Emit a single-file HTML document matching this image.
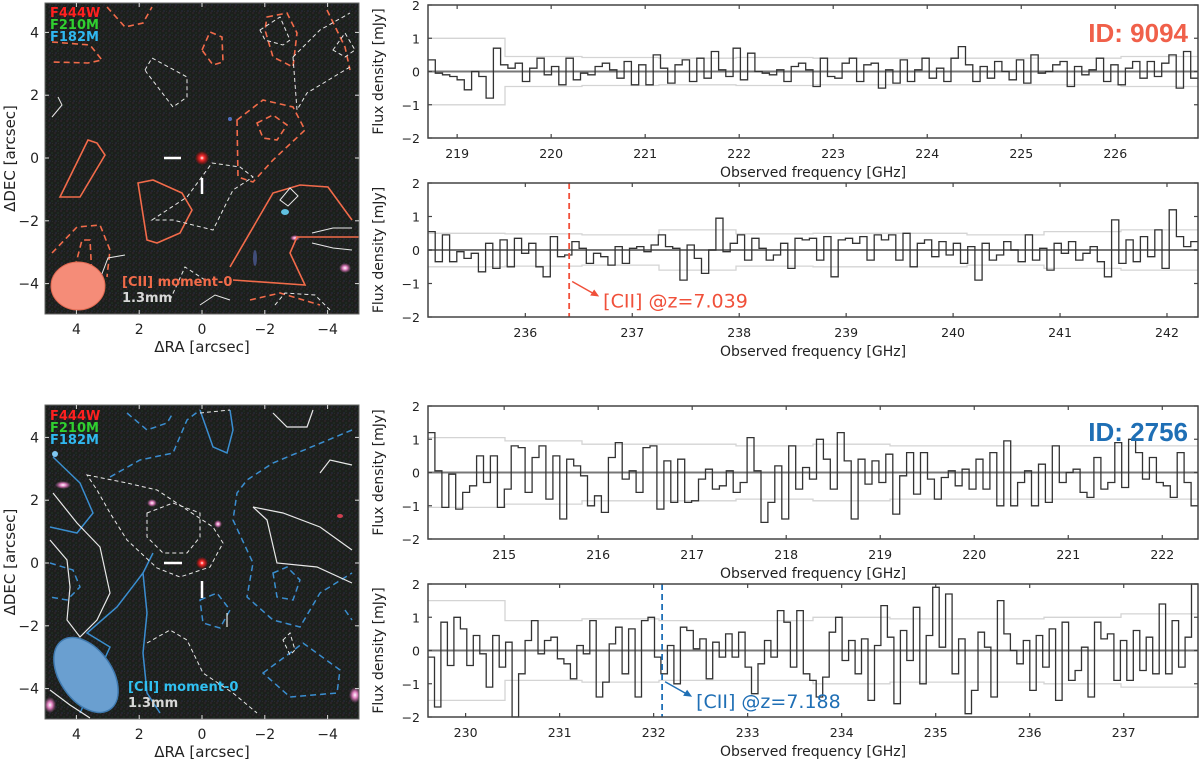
<!DOCTYPE html>
<html><head><meta charset="utf-8"><style>
html,body{margin:0;padding:0;background:#fff;}
svg{display:block;font-family:"DejaVu Sans","Liberation Sans",sans-serif;}
</style></head><body>
<svg id="fig" width="1200" height="762" viewBox="0 0 1200 762" xmlns="http://www.w3.org/2000/svg">
<defs>
<pattern id="noise" width="6" height="6" patternUnits="userSpaceOnUse">
<rect width="6" height="6" fill="#1c1f1c"/>
<rect x="0" y="0" width="2" height="2" fill="#2a2327"/>
<rect x="3" y="2" width="2" height="2" fill="#1f2a22"/>
<rect x="1" y="4" width="2" height="2" fill="#232630"/>
<rect x="4" y="5" width="1" height="1" fill="#2c2a2a"/>
</pattern>
<radialGradient id="redsrc"><stop offset="0" stop-color="#fff"/><stop offset="0.3" stop-color="#ff3030"/><stop offset="1" stop-color="#ff0000" stop-opacity="0"/></radialGradient>
<radialGradient id="pink"><stop offset="0" stop-color="#fff"/><stop offset="0.4" stop-color="#e080c0"/><stop offset="1" stop-color="#c060a0" stop-opacity="0"/></radialGradient>
<clipPath id="clipTop"><rect x="45" y="3" width="314" height="311"/></clipPath>
<clipPath id="clipBot"><rect x="45" y="405" width="314" height="314"/></clipPath>
</defs>

<!-- TOP IMAGE -->
<g>
<rect x="45" y="3" width="314" height="311" fill="url(#noise)"/>
<g clip-path="url(#clipTop)" fill="none" stroke-width="1.6">
<circle cx="230" cy="119" r="2" fill="#5070c0" stroke="none"/>
<ellipse cx="285" cy="212" rx="4" ry="3" fill="#60c0e0" stroke="none"/>
<ellipse cx="295" cy="238" rx="5" ry="3" fill="url(#pink)" stroke="none"/>
<ellipse cx="345" cy="268" rx="6" ry="5" fill="url(#pink)" stroke="none"/>
<ellipse cx="255" cy="258" rx="2" ry="8" fill="#5060a0" stroke="none" opacity="0.7"/>
<g stroke="#f26b4a">
<path d="M60,197 L88,140 L97,143 L105,155 L80,197 Z"/>
<path d="M138,183 L153,180 L182,193 L192,210 L180,233 L157,243 L147,240 Z"/>
<path d="M230,267 L273,193 L300,185 L328,187 L352,220"/>
<path d="M360,237 L297,237 L290,253 L305,285 L233,280"/>
</g>
<g stroke="#f26b4a" stroke-dasharray="6,4">
<path d="M52,42 L90,45 L102,60 L88,63 L53,62"/>
<path d="M107,7 L125,27 L143,23 L152,7"/>
<path d="M202,50 L210,32 L222,37 L223,62 L213,65 Z"/>
<path d="M237,120 L263,100 L293,107 L305,130 L273,160 L253,182 L238,177 Z"/>
<path d="M257,123 L273,115 L287,125 L277,140 L263,138 Z"/>
<path d="M52,253 L77,227 L100,225 L110,250 L107,277"/>
<path d="M75,267 L82,240 L90,240 L92,277"/>
<path d="M267,17 L287,13 L297,33 L293,67 L273,57 L265,30 Z"/>
<path d="M327,10 L345,47 L350,70"/>
<path d="M250,300 L280,293 L320,305"/>
</g>
<g stroke="#e8e8e8" stroke-width="1" stroke-dasharray="4,3">
<path d="M145,70 L152,58 L187,77 L187,97 L173,107 L147,73 Z"/>
<path d="M152,220 L187,197 L212,163 L240,167 L253,177 L233,190 L213,230 L173,220 Z"/>
<path d="M293,57 L320,30 L350,13"/>
<path d="M293,57 L297,110 L307,93 L350,67"/>
<path d="M260,30 L280,17 L290,40 L283,45 L265,40 Z"/>
<path d="M333,50 L345,33 L355,50 L345,57 Z"/>
<path d="M170,300 L185,267 L205,280"/>
<path d="M275,305 L285,293 L315,295 L330,310"/>
</g>
<g stroke="#e8e8e8" stroke-width="1">
<path d="M52,117 L62,105 L58,97"/>
<path d="M280,200 L290,188 L298,196 L288,206 Z"/>
<path d="M312,233 L333,228 L352,228"/>
<path d="M312,243 L333,248 L352,250"/>
<path d="M95,292 L108,258 L125,255"/>
<path d="M200,305 L215,295 L230,300"/>
</g>
<circle cx="202" cy="158" r="7" fill="url(#redsrc)" stroke="none"/>
</g>
<line x1="164" y1="158" x2="181" y2="158" stroke="#fff" stroke-width="2.5"/>
<line x1="202" y1="178" x2="202" y2="194" stroke="#fff" stroke-width="2.5"/>
<ellipse cx="78" cy="286" rx="27" ry="24" fill="#f58c78" stroke="#e06850" stroke-width="1"/>
<text x="50" y="17" fill="#ff2020" font-weight="bold" font-size="13">F444W</text>
<text x="50" y="29" fill="#30d030" font-weight="bold" font-size="13">F210M</text>
<text x="50" y="41" fill="#30b8f0" font-weight="bold" font-size="13">F182M</text>
<text x="122" y="286" fill="#f26b4a" font-weight="bold" font-size="13">[CII] moment-0</text>
<text x="122" y="302" fill="#d8d8d8" font-weight="bold" font-size="13">1.3mm</text>
<rect x="45" y="3" width="314" height="311" fill="none" stroke="#666" stroke-width="1"/>
</g>

<!-- BOTTOM IMAGE -->
<g>
<rect x="45" y="405" width="314" height="314" fill="url(#noise)"/>
<g clip-path="url(#clipBot)" fill="none" stroke-width="1.5">
<ellipse cx="63" cy="485" rx="8" ry="4" fill="url(#pink)" stroke="none"/>
<ellipse cx="152" cy="503" rx="5" ry="4" fill="url(#pink)" stroke="none"/>
<ellipse cx="218" cy="524" rx="4" ry="4" fill="url(#pink)" stroke="none"/>
<ellipse cx="55" cy="454" rx="3" ry="3" fill="#80c8f0" stroke="none"/>
<ellipse cx="355" cy="695" rx="6" ry="8" fill="url(#pink)" stroke="none"/>
<ellipse cx="50" cy="705" rx="6" ry="8" fill="url(#pink)" stroke="none"/>
<ellipse cx="340" cy="516" rx="3" ry="2" fill="#d04050" stroke="none"/>
<g stroke="#3a8ed0">
<path d="M53,457 L80,483 L93,513 L77,533 L50,527"/>
<path d="M153,553 L143,573 L147,613 L143,653 L147,693 L160,713"/>
<path d="M143,573 L117,607 L87,633 L110,647 L80,713"/>
<path d="M200,410 L213,447 L227,453 L233,430 L230,410"/>
</g>
<g stroke="#3a8ed0" stroke-dasharray="6,4">
<path d="M127,413 L147,430 L167,423 L173,413"/>
<path d="M110,477 L140,460 L173,453 L187,420 L200,410"/>
<path d="M352,430 L273,463 L247,480 L237,493 L233,520 L253,563 L247,597 L273,620 L300,627 L320,593 L352,573"/>
<path d="M273,573 L287,567 L300,580 L293,600 L277,597 Z"/>
<path d="M263,673 L290,653 L303,643 L340,670 L337,693 L290,697 Z"/>
<path d="M200,600 L217,593 L230,610 L220,628 L203,623 Z"/>
<path d="M50,563 L73,570 L80,587 L67,600 L50,597"/>
<path d="M345,610 L352,620"/>
</g>
<g stroke="#e8e8e8" stroke-width="1" stroke-dasharray="4,3">
<path d="M87,475 L127,483 L157,490 L213,527 L223,543 L210,567 L180,577 L157,568 L127,540 L110,513 L97,490 Z"/>
<path d="M147,513 L173,503 L200,513 L200,537 L187,553 L163,553 L147,537 Z"/>
<path d="M147,643 L170,630 L187,640 L203,673 L233,693 L257,713"/>
<path d="M283,640 L290,633 L295,650 L290,655 Z"/>
<path d="M200,413 L230,410"/>
</g>
<g stroke="#e8e8e8" stroke-width="1.2">
<path d="M50,540 L67,560 L70,587 L67,620 L80,637 L97,620 L110,593 L100,547 L77,523 L53,493"/>
<path d="M253,507 L267,520 L277,563 L317,567 L352,583"/>
<path d="M253,507 L283,513 L320,527 L352,550"/>
<path d="M273,413 L287,427 L307,427 L313,410"/>
<path d="M320,473 L330,460 L352,465"/>
<path d="M227,613 L227,627"/>
<path d="M50,690 L70,705 L90,718"/>
</g>
<circle cx="202" cy="563" r="6" fill="url(#redsrc)" stroke="none"/>
</g>
<line x1="164" y1="563" x2="182" y2="563" stroke="#fff" stroke-width="2.5"/>
<line x1="202" y1="581" x2="202" y2="598" stroke="#fff" stroke-width="2.5"/>
<ellipse cx="86" cy="675" rx="42" ry="26" transform="rotate(55 86 675)" fill="#6a9fd0" stroke="#3f7ab0" stroke-width="1.5"/>
<text x="50" y="420" fill="#ff2020" font-weight="bold" font-size="13">F444W</text>
<text x="50" y="432" fill="#30d030" font-weight="bold" font-size="13">F210M</text>
<text x="50" y="444" fill="#30b8f0" font-weight="bold" font-size="13">F182M</text>
<text x="128" y="691" fill="#30c0f0" font-weight="bold" font-size="13">[CII] moment-0</text>
<text x="128" y="707" fill="#d8d8d8" font-weight="bold" font-size="13">1.3mm</text>
<rect x="45" y="405" width="314" height="314" fill="none" stroke="#666" stroke-width="1"/>
</g>

<g id="imgaxes" font-size="14" fill="#222"></g>
<g id="spectra"></g>

<text x="1188" y="42" text-anchor="end" fill="#f0604a" font-weight="bold" font-size="26" font-family="Liberation Sans, sans-serif">ID: 9094</text>
<text x="1188" y="441" text-anchor="end" fill="#1f6fb5" font-weight="bold" font-size="26" font-family="Liberation Sans, sans-serif">ID: 2756</text>
</svg>
<script>
// ---- spectrum data ----
const specRangeA = [218.69, 226.88];
const specA = [0.35,-0.05,-0.1,-0.15,-0.25,-0.55,0.0,-0.15,-0.8,0.7,0.2,0.1,0.25,-0.3,0.1,0.4,-0.1,0.15,-0.4,0.4,-0.25,-0.05,-0.1,0.15,0.25,0.05,-0.2,0.3,-0.4,0.2,-0.4,0.5,0.1,-0.35,0.2,0.35,-0.3,0.4,-0.2,0.6,0.05,-0.15,0.7,-0.25,0.55,0.0,-0.05,-0.1,0.05,-0.3,0.15,0.25,0.05,-0.45,0.4,-0.15,-0.2,0.25,0.4,-0.3,0.2,0.25,-0.5,0.05,-0.35,0.35,-0.3,0.05,0.4,-0.2,0.1,-0.3,0.4,0.75,0.2,-0.3,0.15,-0.2,0.3,0.0,-0.25,0.35,-0.35,0.5,-0.05,0.0,0.2,0.3,-0.45,0.15,-0.1,0.05,0.4,-0.3,0.2,-0.4,0.1,0.3,-0.2,0.3,-0.15,0.25,0.5,-0.5,0.6,-0.2];
const rmsA = [1.0,0.45,0.42,0.4,0.42,0.4,0.4,0.4,0.4,0.45];

const specRangeB = [235.09, 242.29];
const specB = [0.55,-0.35,0.45,-0.35,-0.05,-0.25,-0.1,-0.65,0.2,-0.55,0.3,-0.5,0.35,-0.1,0.2,-0.5,-0.8,0.4,-0.2,-0.15,0.25,0.05,-0.4,-0.1,-0.2,-0.45,0.1,-0.4,0.05,0.1,-0.05,0.15,0.45,0.1,0.05,-0.9,0.15,-0.25,-0.7,0.0,0.95,-0.05,0.2,0.45,-0.3,0.35,0.05,-0.3,-0.15,0.2,-0.55,0.35,0.3,0.35,-0.3,0.4,-0.8,0.3,0.35,0.2,0.4,-0.3,0.45,0.3,0.45,-0.3,0.5,-0.5,0.2,0.3,-0.2,0.25,-0.15,0.2,-0.4,0.1,-0.9,0.2,-0.3,-0.15,0.25,0.0,-0.35,0.45,-0.3,0.05,-0.6,0.2,-0.1,0.25,-0.3,-0.1,0.1,-0.35,-0.8,0.9,-0.4,0.3,-0.35,0.4,-0.2,0.6,-0.55,1.2,0.4,0.1,0.25];
const rmsB = [0.5,0.48,0.45,0.6,0.48,0.5,0.5,0.45,0.55,0.6];
const lineB = 236.41;
const labelB = "[CII] @z=7.039";

const specRangeC = [214.19, 222.38];
const specC = [1.2,0.05,-1.05,-0.05,-1.1,-0.6,-0.4,0.5,-0.3,0.5,-1.05,-0.5,0.8,0.75,-0.6,0.45,0.8,-0.8,0.5,-1.4,0.4,0.2,-0.1,-1.0,-0.7,-1.2,0.45,0.9,-0.2,0.05,-0.6,0.75,0.8,-1.1,0.35,-0.9,0.4,-0.9,-0.85,-0.2,0.1,-0.5,-0.4,0.05,-0.6,-0.3,1.05,0.05,-1.5,-0.9,0.2,-1.4,0.8,-0.5,0.15,-0.2,1.0,0.4,-0.5,1.2,0.35,-1.4,0.4,-0.35,0.35,-0.3,0.55,-1.25,-0.1,0.6,-0.65,0.6,-0.2,-0.8,-0.15,0.05,-0.4,0.1,-0.5,0.4,-0.5,0.6,-1.0,0.95,-1.0,-0.3,0.05,-1.0,0.25,-0.9,0.8,-0.3,0.0,0.1,-0.6,-0.75,0.45,-0.5,-0.3,0.9,-0.45,1.0,0.6,-0.2,0.45,-0.3,-0.4,-0.75,0.6,-0.3,-1.0];
const rmsC = [1.05,0.95,0.85,0.85,0.8,0.85,0.8,0.8,0.8,0.8];

const specRangeD = [229.6, 237.79];
const specD = [-0.2,-1.7,0.85,-0.45,1.0,0.65,-0.45,0.45,-0.1,-1.1,0.45,-0.5,0.25,-2.0,-0.7,0.3,0.9,-0.1,0.3,0.4,-0.25,-0.4,-0.85,0.15,-0.1,0.9,-1.4,-0.95,0.2,0.7,-0.7,0.65,-1.4,0.9,1.0,-0.2,-0.7,0.15,-1.0,0.7,0.6,0.05,0.35,-0.85,0.25,-0.2,0.5,-0.2,0.55,-0.5,-1.3,-0.4,0.3,-0.2,1.2,0.85,-0.5,1.2,-0.7,-0.9,-1.4,-0.8,0.55,1.0,-0.3,0.3,-0.7,0.35,-1.5,0.15,1.35,0.4,-1.6,0.6,-0.3,1.3,-1.0,0.45,1.9,0.1,1.7,-0.7,0.35,-1.9,-1.2,0.55,0.1,-1.4,1.5,0.5,0.0,-0.4,0.3,-1.2,0.45,-0.5,0.65,-1.5,0.85,-0.9,-0.6,0.1,-1.4,0.85,0.35,0.5,-0.9,0.3,-0.9,0.6,-0.6,0.4,-0.7,1.4,-0.7,0.9,-0.5,0.4,2.0];
const rmsD = [1.5,0.9,0.95,0.9,0.9,1.0,0.95,0.95,1.0,1.1];
const lineD = 232.09;
const labelD = "[CII] @z=7.188";

const yTicks = [-2,-1,0,1,2];
const raTicks = [4,2,0,-2,-4];
const decTicks = [4,2,0,-2,-4];

const NS = "http://www.w3.org/2000/svg";
function mk(tag, attrs, parent){ const e=document.createElementNS(NS,tag); for(const k in attrs) e.setAttribute(k,attrs[k]); parent.appendChild(e); return e; }

const root = document.getElementById('spectra');
const L = 428, R = 1198;

function drawPanel(name, range, vals, rms, top, bot, line, label, color){
  const g = mk('g', {}, root);
  
  
  const xs = f => L + (f - range[0]) / (range[1] - range[0]) * (R - L);
  const ys = v => bot - (v + 2) / 4 * (bot - top);
  const n = vals.length, df = (range[1] - range[0]) / n;
  // noise envelopes
  const m = rms.length, dr = (range[1] - range[0]) / m;
  ['+', '-'].forEach(s => {
    let d = '';
    rms.forEach((r, i) => {
      const v = s === '+' ? r : -r;
      const x0 = xs(range[0] + i * dr), x1 = xs(range[0] + (i + 1) * dr);
      d += (i === 0 ? 'M' : 'L') + x0.toFixed(1) + ',' + ys(v).toFixed(1) + ' L' + x1.toFixed(1) + ',' + ys(v).toFixed(1) + ' ';
    });
    const p = mk('path', {d: d, fill: 'none', stroke: '#d4d4d4', 'stroke-width': 1.3}, g);
    
    
  });
  // zero line
  const z = mk('line', {x1: L, x2: R, y1: ys(0), y2: ys(0), stroke: '#777', 'stroke-width': 2}, g);
  
  
  // step spectrum
  let d = '';
  vals.forEach((v, i) => {
    const x0 = xs(range[0] + i * df), x1 = xs(range[0] + (i + 1) * df);
    d += (i === 0 ? 'M' : 'L') + x0.toFixed(1) + ',' + ys(v).toFixed(1) + ' L' + x1.toFixed(1) + ',' + ys(v).toFixed(1) + ' ';
  });
  const sp = mk('path', {d: d, fill: 'none', stroke: '#333', 'stroke-width': 1.3}, g);
  
  
  // line marker
  if (line !== null) {
    const lx = xs(line);
    const ml = mk('line', {x1: lx, x2: lx, y1: top, y2: bot, stroke: color, 'stroke-width': 1.8, 'stroke-dasharray': '6,4'}, g);
    
    
    const ay = ys(-1);
    mk('line', {x1: lx + 3, y1: ay - 2, x2: lx + 26, y2: ay + 11, stroke: color, 'stroke-width': 1.5}, g);
    mk('path', {d: `M${lx+30},${ay+13} L${lx+21},${ay+12} L${lx+25},${ay+6} Z`, fill: color}, g);
    const t = mk('text', {x: lx + 34, y: ay + 24, fill: color, 'font-size': 19}, g);
    t.textContent = label;
    
    
  }
  // frame
  mk('rect', {x: L, y: top, width: R - L, height: bot - top, fill: 'none', stroke: '#444', 'stroke-width': 1.5}, g);
  // x ticks
  for (let f = Math.ceil(range[0]); f <= range[1]; f++) {
    const x = xs(f);
    mk('line', {x1: x, x2: x, y1: bot, y2: bot - 4, stroke: '#444', 'stroke-width': 1.2}, g);
    mk('line', {x1: x, x2: x, y1: top, y2: top + 4, stroke: '#444', 'stroke-width': 1.2}, g);
    const t = mk('text', {x: x, y: bot + 20, 'text-anchor': 'middle', 'font-size': 12.5, fill: '#222'}, g);
    t.textContent = f;
    
    
  }
  yTicks.forEach(v => {
    const y = ys(v);
    mk('line', {x1: L, x2: L + 4, y1: y, y2: y, stroke: '#444', 'stroke-width': 1.2}, g);
    mk('line', {x1: R, x2: R - 4, y1: y, y2: y, stroke: '#444', 'stroke-width': 1.2}, g);
    const t = mk('text', {x: L - 8, y: y + 5, 'text-anchor': 'end', 'font-size': 12.5, fill: '#222'}, g);
    t.textContent = v < 0 ? '\u2212' + Math.abs(v) : v;
    
    
  });
  const xl = mk('text', {x: 813, y: bot + 39, 'text-anchor': 'middle', 'font-size': 14, fill: '#222'}, g);
  xl.textContent = 'Observed frequency [GHz]';
  
  
  const cy = (top + bot) / 2;
  const yl = mk('text', {x: 383, y: cy, 'text-anchor': 'middle', 'font-size': 14, fill: '#222', transform: `rotate(-90 383 ${cy})`}, g);
  yl.textContent = 'Flux density [mJy]';
  
  
}

drawPanel('spectrum-9094-low', specRangeA, specA, rmsA, 5, 138, null, '', '');
drawPanel('spectrum-9094-high', specRangeB, specB, rmsB, 183, 317, lineB, labelB, '#f0503a');
drawPanel('spectrum-2756-low', specRangeC, specC, rmsC, 406, 539, null, '', '');
drawPanel('spectrum-2756-high', specRangeD, specD, rmsD, 584, 717, lineD, labelD, '#1f6fb5');

// image axes
const ia = document.getElementById('imgaxes');
function imgAxes(top, bot, cy){
  raTicks.forEach(r => {
    const x = 202 - 31.4 * r;
    mk('line', {x1: x, x2: x, y1: bot, y2: bot - 4, stroke: '#ddd', 'stroke-width': 1}, ia);
    mk('line', {x1: x, x2: x, y1: top, y2: top + 4, stroke: '#ddd', 'stroke-width': 1}, ia);
    const t = mk('text', {x: x, y: bot + 20, 'text-anchor': 'middle', 'font-size': 14}, ia);
    t.textContent = r < 0 ? '\u2212' + Math.abs(r) : r;
    
    
  });
  decTicks.forEach(v => {
    const y = cy - 31.4 * v;
    mk('line', {x1: 45, x2: 49, y1: y, y2: y, stroke: '#ddd', 'stroke-width': 1}, ia);
    mk('line', {x1: 359, x2: 355, y1: y, y2: y, stroke: '#ddd', 'stroke-width': 1}, ia);
    const t = mk('text', {x: 39, y: y + 5, 'text-anchor': 'end', 'font-size': 14}, ia);
    t.textContent = v < 0 ? '\u2212' + Math.abs(v) : v;
    
    
  });
  const xl = mk('text', {x: 202, y: bot + 38, 'text-anchor': 'middle', 'font-size': 15}, ia);
  xl.textContent = '\u0394RA [arcsec]';
  
  
  const my = (top + bot) / 2;
  const yl = mk('text', {x: 15, y: my, 'text-anchor': 'middle', 'font-size': 15, transform: `rotate(-90 15 ${my})`}, ia);
  yl.textContent = '\u0394DEC [arcsec]';
  
  
}
imgAxes(3, 314, 158);
imgAxes(405, 719, 563);
</script>
</body></html>
